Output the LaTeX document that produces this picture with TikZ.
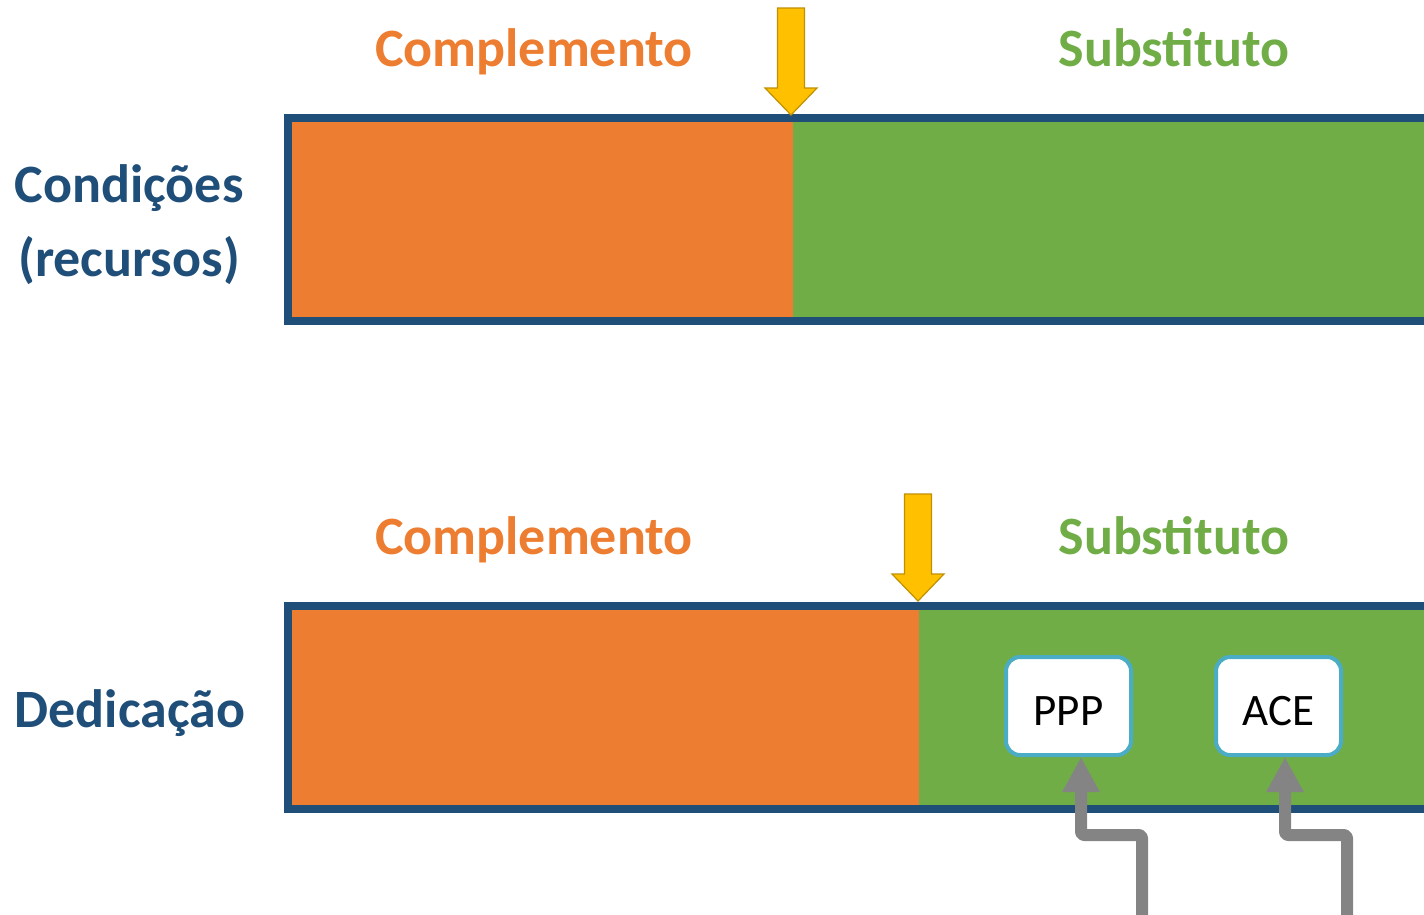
\documentclass[tikz,border=0pt]{standalone}
\usepackage{fontspec}
\setmainfont{Carlito}
\usetikzlibrary{arrows.meta}

\definecolor{barblue}{HTML}{1F4E79}
\definecolor{comporange}{HTML}{ED7D31}
\definecolor{subsgreen}{HTML}{70AD47}
\definecolor{markyellow}{HTML}{FFC000}
\definecolor{markedge}{HTML}{BF9000}
\definecolor{boxcyan}{HTML}{4BACC6}
\definecolor{linkgray}{HTML}{848484}

\tikzset{
  rowlabel/.style={font=\fontsize{54}{60}\selectfont\bfseries, text=barblue, anchor=base, align=center},
  partlabel/.style={font=\fontsize{54}{60}\selectfont\bfseries, anchor=base},
  policybox/.style={draw=boxcyan, line width=4pt, fill=white, rounded corners=14pt,
    minimum width=125pt, minimum height=98pt, inner sep=0pt,
    text height=39pt, text depth=0pt,
    font=\fontsize{45}{50}\selectfont},
  link/.style={draw=linkgray, line width=12pt, line join=round, rounded corners=3pt,
    -{Triangle[width=35pt,length=35pt]}}
}

\begin{document}
\begin{tikzpicture}[x=1pt,y=-1pt]
\useasboundingbox (0,0) rectangle (1424,914);

% bars
\foreach \y/\split in {118/793,606/919} {
  \fill[comporange] (292,\y) rectangle (\split,\y+203);
  \fill[subsgreen] (\split,\y) rectangle (1440,\y+203);
  \draw[barblue, line width=8pt] (288,\y) rectangle (1440,\y+203);
}

% labels
\node[rowlabel] (cond) at (129,202) {Condições};
\node[rowlabel] (recur) at (129,276) {(recursos)};
\node[rowlabel] (dedic) at (130,727) {Dedicação};

\node[partlabel, text=comporange] (comp1) at (534,66) {Complemento};
\node[partlabel, text=subsgreen] (subs1) at (1174,66) {Substituto};
\node[partlabel, text=comporange] (comp2) at (534,554) {Complemento};
\node[partlabel, text=subsgreen] (subs2) at (1174,554) {Substituto};

% yellow markers
\foreach \x/\tip in {791/115,918/601} {
  \draw[markedge, fill=markyellow, line width=1.2pt, line join=miter]
    (\x-13.5,\tip-107) -- (\x+13.5,\tip-107) -- (\x+13.5,\tip-27) -- (\x+26,\tip-27)
    -- (\x,\tip) coordinate (tip\x) -- (\x-26,\tip-27) -- (\x-13.5,\tip-27) -- cycle;
}

% policies
\node[policybox] (ppp) at (1068.5,706) {PPP};
\node[policybox] (ace) at (1278.5,706) {ACE};

\coordinate (pppin) at (1142,930);
\coordinate (acein) at (1347,930);
\draw[link] (pppin) -- (1142,835) -| ([xshift=12.5pt]ppp.south);
\draw[link] (acein) -- (1347,835) -| ([xshift=6.5pt]ace.south);
\end{tikzpicture}
\end{document}
